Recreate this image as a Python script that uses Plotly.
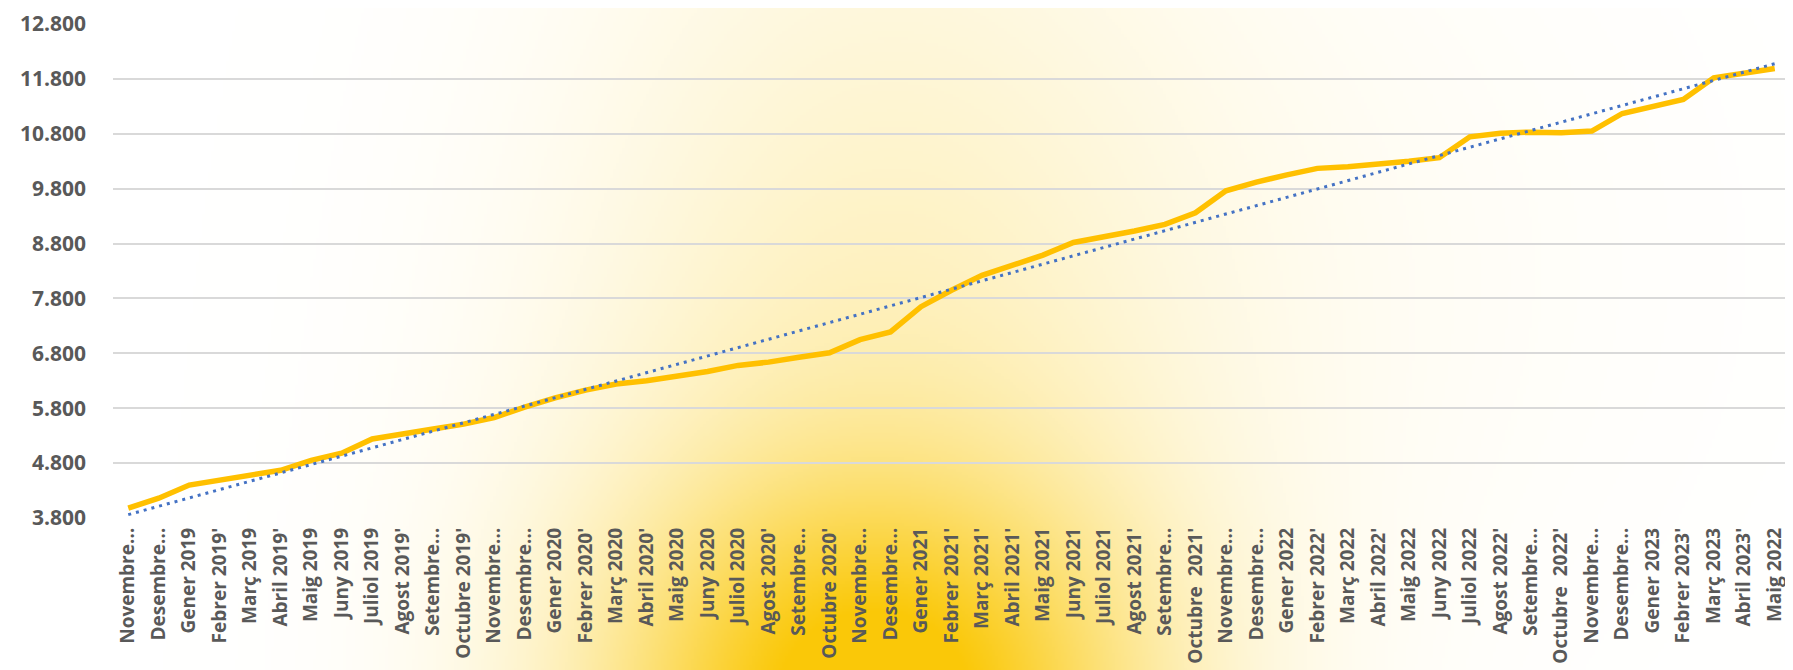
import base64, struct, zlib
import numpy as np
import plotly.graph_objects as go

categories = [
    "Novembre…", "Desembre…",
    "Gener 2019", "Febrer 2019'", "Març 2019", "Abril 2019'", "Maig 2019", "Juny 2019",
    "Juliol 2019", "Agost 2019'", "Setembre…", "Octubre 2019'", "Novembre…", "Desembre…",
    "Gener 2020", "Febrer 2020'", "Març 2020", "Abril 2020'", "Maig 2020", "Juny 2020",
    "Juliol 2020", "Agost 2020'", "Setembre…", "Octubre 2020'", "Novembre…", "Desembre…",
    "Gener 2021", "Febrer 2021'", "Març 2021'", "Abril 2021'", "Maig 2021", "Juny 2021",
    "Juliol 2021", "Agost 2021'", "Setembre…", "Octubre  2021'", "Novembre…", "Desembre…",
    "Gener 2022", "Febrer 2022'", "Març 2022", "Abril 2022'", "Maig 2022", "Juny 2022",
    "Juliol 2022", "Agost 2022'", "Setembre…", "Octubre  2022'", "Novembre…", "Desembre…",
    "Gener 2023", "Febrer 2023'", "Març 2023", "Abril 2023'", "Maig 2022",
]

values = [
    3980, 4160,
    4400, 4490, 4560, 4670, 4850, 4980,
    5240, 5340, 5420, 5510, 5630, 5820,
    5990, 6130, 6240, 6300, 6380, 6470,
    6580, 6640, 6730, 6810, 7050, 7190,
    7650, 7950, 8220, 8400, 8590, 8820,
    8920, 9030, 9150, 9360, 9760, 9920,
    10050, 10170, 10200, 10240, 10300, 10365,
    10745, 10810, 10830, 10820, 10850, 11170,
    11285, 11425, 11820, 11900, 11990,
]

y_min, y_max, y_step = 3800, 12800, 1000

# category positions (labels repeat, so plot on positions and label them)
pos = list(range(len(categories)))

# Excel-style linear trendline
slope, intercept = np.polyfit(pos, values, 1)
trend = [slope * p + intercept for p in pos]

# ---- background glow as PNG ----
W, H = 1793 // 3, 670 // 3
xs = np.linspace(0, 1793, W)[None, :]
ys = np.linspace(0, 670, H)[:, None]
dx = xs - 865
dy = ys - 690
core = 0.8 * np.exp(-(dx / 250.0) ** 2 - (dy / 200.0) ** 2)
column = 0.33 * np.exp(-(dx / 310.0) ** 2 - (dy / 720.0) ** 2)
haze = 0.04 * np.exp(-((xs - 1250) / 400.0) ** 2 - ((ys - 250) / 400.0) ** 2)
t = np.clip(core + column + haze, 0, 1)
gold = np.array([250, 200, 8], dtype=float)
white = np.array([255, 255, 255], dtype=float)
img = white[None, None, :] * (1 - t[..., None]) + gold[None, None, :] * t[..., None]
img = np.round(img).astype(np.uint8)

def png_bytes(arr):
    h, w, _ = arr.shape
    raw = b"".join(b"\x00" + arr[r].tobytes() for r in range(h))
    def chunk(tag, data):
        c = struct.pack(">I", len(data)) + tag + data
        return c + struct.pack(">I", zlib.crc32(tag + data) & 0xFFFFFFFF)
    return (b"\x89PNG\r\n\x1a\n" + chunk(b"IHDR", struct.pack(">IIBBBBB", w, h, 8, 2, 0, 0, 0))
            + chunk(b"IDAT", zlib.compress(raw, 9)) + chunk(b"IEND", b""))

bg_uri = "data:image/png;base64," + base64.b64encode(png_bytes(img)).decode()

fig = go.Figure()
fig.add_trace(go.Scatter(
    x=pos, y=values, mode="lines", text=categories,
    line=dict(color="#FFC000", width=5.5), showlegend=False,
    hovertemplate="%{text}: %{y}<extra></extra>",
))
fig.add_trace(go.Scatter(
    x=pos, y=trend, mode="lines",
    line=dict(color="#4472C4", width=3, dash="3px,5px"), showlegend=False, hoverinfo="skip",
))

fig.update_layout(
    width=1793, height=670,
    margin=dict(l=0, r=0, t=0, b=0),
    paper_bgcolor="white", plot_bgcolor="rgba(0,0,0,0)",
    separators=",.",
    font=dict(family="Open Sans", color="#595959"),
    images=[dict(source=bg_uri, xref="paper", yref="paper", x=0, y=1, sizex=1, sizey=1,
                 xanchor="left", yanchor="top", sizing="stretch", layer="below")],
    xaxis=dict(
        domain=[105 / 1793, 1782 / 1793], range=[-0.5, len(categories) - 0.5],
        tickmode="array", tickvals=pos, ticktext=categories,
        tickangle=-90, showgrid=False, zeroline=False, showline=False, ticks="",
        tickfont=dict(size=19, family="Open Sans", weight="bold", color="#595959"),
        ticklabelstandoff=5, automargin=False,
    ),
    yaxis=dict(
        domain=[1 - 510 / 670, 1 - 16 / 670], range=[y_min, y_max],
        tick0=y_min, dtick=y_step, tickformat=",.0f",
        showgrid=True, gridcolor="#D9D9D9", gridwidth=2, zeroline=False, showline=False,
        ticks="", tickfont=dict(size=21, family="Open Sans", weight="bold", color="#595959"),
        ticklabelstandoff=26, automargin=False,
    ),
)

fig.write_html("out.html")
